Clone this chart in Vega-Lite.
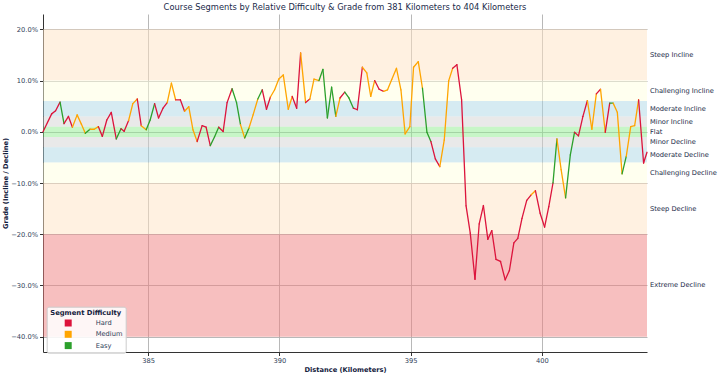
{
  "$schema": "https://vega.github.io/schema/vega-lite/v6.json",
  "width": 604,
  "height": 338,
  "autosize": {"type": "none"},
  "padding": {"left": 43, "top": 14, "right": 73, "bottom": 26},
  "background": "white",
  "title": {"text": "Course Segments by Relative Difficulty & Grade from 381 Kilometers to 404 Kilometers", "fontSize": 8.3, "fontWeight": "normal", "color": "#1a2a4a", "anchor": "middle", "offset": 3, "font": "DejaVu Sans"},
  "config": {
    "font": "DejaVu Sans",
    "view": {"stroke": null},
    "axis": {"labelFont": "DejaVu Sans", "labelFontSize": 6.7, "labelColor": "#2e3d58", "titleFont": "DejaVu Sans", "titleFontSize": 6.7, "titleFontWeight": "bold", "titleColor": "#14213d", "domainColor": "#333333", "tickColor": "#333333", "tickSize": 3.5, "gridColor": "#b0b0b0", "gridWidth": 0.9},
    "axisX": {"labelPadding": 2, "titlePadding": 2},
    "axisY": {"labelPadding": 2, "titlePadding": 2}
  },
  "datasets": {
    "bands": [
      {"band": "Steep Incline", "lo": 10, "hi": 20, "kind": "Steep"},
      {"band": "Challenging Incline", "lo": 6, "hi": 10, "kind": "Challenging"},
      {"band": "Moderate Incline", "lo": 3, "hi": 6, "kind": "Moderate"},
      {"band": "Minor Incline", "lo": 1, "hi": 3, "kind": "Minor"},
      {"band": "Flat", "lo": -1, "hi": 1, "kind": "Flat"},
      {"band": "Minor Decline", "lo": -3, "hi": -1, "kind": "Minor"},
      {"band": "Moderate Decline", "lo": -6, "hi": -3, "kind": "Moderate"},
      {"band": "Challenging Decline", "lo": -10, "hi": -6, "kind": "Challenging"},
      {"band": "Steep Decline", "lo": -20, "hi": -10, "kind": "Steep"},
      {"band": "Extreme Decline", "lo": -40, "hi": -20, "kind": "Extreme"}
    ],
    "segments": [
      {"km": 381.00, "grade": 0.0, "difficulty": "Hard"},
      {"km": 381.33, "grade": 3.5, "difficulty": "Hard"},
      {"km": 381.48, "grade": 4.1, "difficulty": "Hard"},
      {"km": 381.65, "grade": 5.8, "difficulty": "Easy"},
      {"km": 381.80, "grade": 1.6, "difficulty": "Hard"},
      {"km": 381.97, "grade": 3.0, "difficulty": "Hard"},
      {"km": 382.12, "grade": 0.9, "difficulty": "Medium"},
      {"km": 382.30, "grade": 3.3, "difficulty": "Medium"},
      {"km": 382.46, "grade": 1.5, "difficulty": "Medium"},
      {"km": 382.61, "grade": -0.3, "difficulty": "Easy"},
      {"km": 382.79, "grade": 0.5, "difficulty": "Medium"},
      {"km": 382.95, "grade": 0.5, "difficulty": "Medium"},
      {"km": 383.11, "grade": 1.0, "difficulty": "Hard"},
      {"km": 383.26, "grade": -0.9, "difficulty": "Hard"},
      {"km": 383.43, "grade": 2.3, "difficulty": "Hard"},
      {"km": 383.60, "grade": 3.8, "difficulty": "Hard"},
      {"km": 383.79, "grade": -1.4, "difficulty": "Easy"},
      {"km": 383.97, "grade": 0.6, "difficulty": "Hard"},
      {"km": 384.09, "grade": 0.1, "difficulty": "Hard"},
      {"km": 384.26, "grade": 2.2, "difficulty": "Medium"},
      {"km": 384.42, "grade": 5.5, "difficulty": "Medium"},
      {"km": 384.59, "grade": 6.4, "difficulty": "Hard"},
      {"km": 384.74, "grade": 1.2, "difficulty": "Medium"},
      {"km": 384.93, "grade": 0.4, "difficulty": "Easy"},
      {"km": 385.08, "grade": 2.3, "difficulty": "Easy"},
      {"km": 385.25, "grade": 5.5, "difficulty": "Hard"},
      {"km": 385.40, "grade": 2.7, "difficulty": "Hard"},
      {"km": 385.57, "grade": 4.6, "difficulty": "Hard"},
      {"km": 385.73, "grade": 5.7, "difficulty": "Medium"},
      {"km": 385.89, "grade": 9.5, "difficulty": "Medium"},
      {"km": 386.05, "grade": 6.25, "difficulty": "Hard"},
      {"km": 386.23, "grade": 6.25, "difficulty": "Hard"},
      {"km": 386.39, "grade": 4.0, "difficulty": "Medium"},
      {"km": 386.55, "grade": 4.9, "difficulty": "Medium"},
      {"km": 386.71, "grade": 0.4, "difficulty": "Medium"},
      {"km": 386.87, "grade": -1.9, "difficulty": "Hard"},
      {"km": 387.06, "grade": 1.2, "difficulty": "Hard"},
      {"km": 387.21, "grade": 0.9, "difficulty": "Hard"},
      {"km": 387.37, "grade": -2.7, "difficulty": "Easy"},
      {"km": 387.53, "grade": -1.0, "difficulty": "Easy"},
      {"km": 387.69, "grade": 0.9, "difficulty": "Hard"},
      {"km": 387.86, "grade": 0.06, "difficulty": "Hard"},
      {"km": 388.01, "grade": 5.7, "difficulty": "Hard"},
      {"km": 388.20, "grade": 8.4, "difficulty": "Easy"},
      {"km": 388.37, "grade": 5.7, "difficulty": "Easy"},
      {"km": 388.52, "grade": 1.4, "difficulty": "Medium"},
      {"km": 388.68, "grade": -1.2, "difficulty": "Easy"},
      {"km": 388.84, "grade": 0.7, "difficulty": "Medium"},
      {"km": 389.00, "grade": 3.3, "difficulty": "Medium"},
      {"km": 389.18, "grade": 6.4, "difficulty": "Easy"},
      {"km": 389.35, "grade": 8.2, "difficulty": "Hard"},
      {"km": 389.51, "grade": 4.4, "difficulty": "Hard"},
      {"km": 389.66, "grade": 6.8, "difficulty": "Medium"},
      {"km": 389.82, "grade": 8.2, "difficulty": "Medium"},
      {"km": 389.98, "grade": 10.3, "difficulty": "Medium"},
      {"km": 390.15, "grade": 11.1, "difficulty": "Medium"},
      {"km": 390.34, "grade": 4.4, "difficulty": "Medium"},
      {"km": 390.49, "grade": 6.9, "difficulty": "Hard"},
      {"km": 390.66, "grade": 4.6, "difficulty": "Hard"},
      {"km": 390.81, "grade": 15.4, "difficulty": "Medium"},
      {"km": 391.00, "grade": 5.7, "difficulty": "Hard"},
      {"km": 391.16, "grade": 6.4, "difficulty": "Medium"},
      {"km": 391.32, "grade": 10.3, "difficulty": "Medium"},
      {"km": 391.51, "grade": 10.0, "difficulty": "Easy"},
      {"km": 391.66, "grade": 12.2, "difficulty": "Easy"},
      {"km": 391.83, "grade": 2.7, "difficulty": "Easy"},
      {"km": 391.99, "grade": 8.7, "difficulty": "Easy"},
      {"km": 392.15, "grade": 3.0, "difficulty": "Medium"},
      {"km": 392.31, "grade": 6.6, "difficulty": "Hard"},
      {"km": 392.49, "grade": 7.75, "difficulty": "Easy"},
      {"km": 392.65, "grade": 6.6, "difficulty": "Easy"},
      {"km": 392.82, "grade": 4.6, "difficulty": "Hard"},
      {"km": 392.97, "grade": 4.3, "difficulty": "Hard"},
      {"km": 393.16, "grade": 12.6, "difficulty": "Medium"},
      {"km": 393.33, "grade": 11.5, "difficulty": "Medium"},
      {"km": 393.48, "grade": 6.9, "difficulty": "Medium"},
      {"km": 393.63, "grade": 10.0, "difficulty": "Hard"},
      {"km": 393.80, "grade": 8.3, "difficulty": "Hard"},
      {"km": 393.97, "grade": 7.9, "difficulty": "Medium"},
      {"km": 394.12, "grade": 8.2, "difficulty": "Medium"},
      {"km": 394.28, "grade": 10.2, "difficulty": "Medium"},
      {"km": 394.46, "grade": 12.4, "difficulty": "Medium"},
      {"km": 394.63, "grade": 8.2, "difficulty": "Medium"},
      {"km": 394.79, "grade": -0.4, "difficulty": "Medium"},
      {"km": 394.97, "grade": 1.0, "difficulty": "Medium"},
      {"km": 395.11, "grade": 12.6, "difficulty": "Medium"},
      {"km": 395.29, "grade": 13.7, "difficulty": "Medium"},
      {"km": 395.45, "grade": 8.5, "difficulty": "Easy"},
      {"km": 395.62, "grade": -0.1, "difficulty": "Easy"},
      {"km": 395.77, "grade": -1.9, "difficulty": "Hard"},
      {"km": 395.94, "grade": -5.3, "difficulty": "Hard"},
      {"km": 396.11, "grade": -6.8, "difficulty": "Medium"},
      {"km": 396.28, "grade": -1.6, "difficulty": "Medium"},
      {"km": 396.45, "grade": 10.0, "difficulty": "Medium"},
      {"km": 396.60, "grade": 12.4, "difficulty": "Hard"},
      {"km": 396.76, "grade": 13.1, "difficulty": "Hard"},
      {"km": 396.94, "grade": 6.25, "difficulty": "Hard"},
      {"km": 397.11, "grade": -14.45, "difficulty": "Hard"},
      {"km": 397.27, "grade": -19.8, "difficulty": "Hard"},
      {"km": 397.45, "grade": -28.8, "difficulty": "Hard"},
      {"km": 397.61, "grade": -18.0, "difficulty": "Hard"},
      {"km": 397.77, "grade": -14.4, "difficulty": "Hard"},
      {"km": 397.94, "grade": -21.0, "difficulty": "Hard"},
      {"km": 398.09, "grade": -19.3, "difficulty": "Hard"},
      {"km": 398.25, "grade": -24.9, "difficulty": "Hard"},
      {"km": 398.42, "grade": -25.3, "difficulty": "Hard"},
      {"km": 398.60, "grade": -28.9, "difficulty": "Hard"},
      {"km": 398.76, "grade": -27.1, "difficulty": "Hard"},
      {"km": 398.93, "grade": -21.7, "difficulty": "Hard"},
      {"km": 399.08, "grade": -20.8, "difficulty": "Hard"},
      {"km": 399.24, "grade": -16.9, "difficulty": "Hard"},
      {"km": 399.42, "grade": -13.4, "difficulty": "Hard"},
      {"km": 399.59, "grade": -12.3, "difficulty": "Medium"},
      {"km": 399.75, "grade": -11.5, "difficulty": "Hard"},
      {"km": 399.93, "grade": -15.9, "difficulty": "Hard"},
      {"km": 400.10, "grade": -18.6, "difficulty": "Hard"},
      {"km": 400.26, "grade": -14.6, "difficulty": "Hard"},
      {"km": 400.42, "grade": -10.0, "difficulty": "Easy"},
      {"km": 400.57, "grade": -1.4, "difficulty": "Medium"},
      {"km": 400.73, "grade": -7.4, "difficulty": "Medium"},
      {"km": 400.90, "grade": -12.9, "difficulty": "Easy"},
      {"km": 401.08, "grade": -4.5, "difficulty": "Easy"},
      {"km": 401.24, "grade": -0.1, "difficulty": "Hard"},
      {"km": 401.39, "grade": -0.8, "difficulty": "Hard"},
      {"km": 401.56, "grade": 3.0, "difficulty": "Hard"},
      {"km": 401.73, "grade": 6.1, "difficulty": "Medium"},
      {"km": 401.90, "grade": 0.5, "difficulty": "Medium"},
      {"km": 402.07, "grade": 7.4, "difficulty": "Hard"},
      {"km": 402.23, "grade": 8.3, "difficulty": "Medium"},
      {"km": 402.41, "grade": -0.1, "difficulty": "Hard"},
      {"km": 402.58, "grade": 5.6, "difficulty": "Easy"},
      {"km": 402.71, "grade": 5.6, "difficulty": "Medium"},
      {"km": 402.87, "grade": 3.8, "difficulty": "Medium"},
      {"km": 403.05, "grade": -8.2, "difficulty": "Easy"},
      {"km": 403.21, "grade": -4.8, "difficulty": "Medium"},
      {"km": 403.38, "grade": 1.0, "difficulty": "Medium"},
      {"km": 403.53, "grade": 1.2, "difficulty": "Medium"},
      {"km": 403.68, "grade": 6.25, "difficulty": "Hard"},
      {"km": 403.87, "grade": -6.1, "difficulty": "Hard"},
      {"km": 404.00, "grade": -4.0, "difficulty": "Hard"}
    ]
  },
  "layer": [
    {
      "data": {"name": "bands"},
      "mark": {"type": "rect", "opacity": 0.5},
      "encoding": {
        "x": {"datum": 381, "type": "quantitative", "scale": {"domain": [381, 404], "nice": false, "zero": false}, "axis": {"values": [385, 390, 395, 400], "title": "Distance (Kilometers)", "grid": true}},
        "x2": {"datum": 404},
        "y": {"field": "lo", "type": "quantitative", "scale": {"domain": [-43, 23], "nice": false, "zero": false}, "axis": {"values": [-40, -30, -20, -10, 0, 10, 20], "labelExpr": "format(datum.value, '.1f') + '%'", "title": "Grade (Incline / Decline)", "grid": true}},
        "y2": {"field": "hi"},
        "fill": {"field": "kind", "type": "nominal", "legend": null, "scale": {"domain": ["Extreme", "Steep", "Challenging", "Moderate", "Minor", "Flat"], "range": ["#f08080", "#ffe4c4", "#ffffe0", "#add8e6", "#d3d3d3", "#90ee90"]}}
      }
    },
    {
      "data": {"name": "bands"},
      "transform": [{"calculate": "(datum.lo + datum.hi) / 2", "as": "mid"}],
      "mark": {"type": "text", "align": "left", "baseline": "middle", "dx": 3, "fontSize": 6.7, "color": "#1a2947"},
      "encoding": {
        "x": {"datum": 404, "type": "quantitative", "axis": {"values": [385, 390, 395, 400], "title": "Distance (Kilometers)", "grid": true}},
        "y": {"field": "mid", "type": "quantitative", "axis": {"values": [-40, -30, -20, -10, 0, 10, 20], "labelExpr": "format(datum.value, '.1f') + '%'", "title": "Grade (Incline / Decline)", "grid": true}},
        "text": {"field": "band"}
      }
    },
    {
      "data": {"name": "segments"},
      "transform": [
        {"window": [{"op": "lead", "field": "km", "as": "km2"}, {"op": "lead", "field": "grade", "as": "grade2"}], "sort": [{"field": "km"}]},
        {"filter": "datum.km2 != null"}
      ],
      "mark": {"type": "rule", "strokeWidth": 1.3, "strokeCap": "round"},
      "encoding": {
        "x": {"field": "km", "type": "quantitative", "axis": {"values": [385, 390, 395, 400], "title": "Distance (Kilometers)", "grid": true}},
        "y": {"field": "grade", "type": "quantitative", "axis": {"values": [-40, -30, -20, -10, 0, 10, 20], "labelExpr": "format(datum.value, '.1f') + '%'", "title": "Grade (Incline / Decline)", "grid": true}},
        "x2": {"field": "km2"},
        "y2": {"field": "grade2"},
        "stroke": {
          "field": "difficulty", "type": "nominal",
          "scale": {"domain": ["Hard", "Medium", "Easy"], "range": ["#dc143c", "#ffa500", "#2ca02c"]},
          "legend": {
            "orient": "none", "legendX": 3.7, "legendY": 292.7,
            "title": "Segment Difficulty", "titleFontSize": 6.8, "titleFontWeight": "bold", "titleColor": "#14213d", "titleAnchor": "middle", "titlePadding": 3,
            "labelFontSize": 6.7, "labelColor": "#2e3d58", "labelOffset": 24,
            "symbolType": "square", "symbolSize": 49, "symbolStrokeWidth": 0, "symbolOffset": 15,
            "rowPadding": 3.3, "padding": 3,
            "fillColor": "rgba(255,255,255,0.85)", "strokeColor": "#cccccc", "cornerRadius": 2,
            "encode": {"symbols": {"update": {"fill": {"scale": "stroke", "field": "value"}, "opacity": {"value": 1}}}}
          }
        }
      }
    }
  ]
}
